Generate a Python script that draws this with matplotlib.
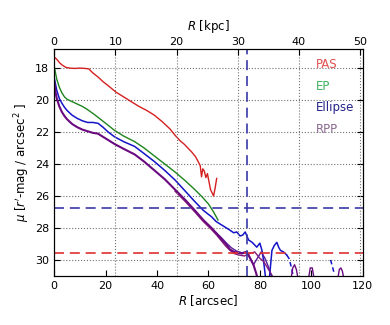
import numpy as np
import matplotlib
matplotlib.use('Agg')
import matplotlib.pyplot as plt

nan = np.nan

# surface brightness profiles, R in arcsec, mu in mag/arcsec^2
pas_r = [0, 1, 2, 3, 4.5, 6, 8, 10, 12, 13.5, 15, 17, 19, 21, 24, 27, 30, 33, 36, 39, 42, 45, 47, 49,
         50.5, 52, 53.5, 55, 56, 56.8, 57.3, 57.8, 58.4, 59, 59.6, 60.2, 60.8, 61.4, 62, 62.6, 63.2]
pas_mu = [17.3, 17.45, 17.65, 17.8, 17.95, 18.0, 18.02, 18.0, 18.02, 18.05, 18.3, 18.55, 18.85, 19.1,
          19.5, 19.8, 20.1, 20.4, 20.65, 20.95, 21.35, 21.8, 22.2, 22.55, 22.75, 23.0, 23.25, 23.55,
          23.85, 24.1, 24.8, 24.3, 24.45, 24.85, 24.6, 25.1, 25.6, 25.8, 26.0, 25.5, 24.9]

ep_r = [0, 0.5, 1, 2, 3, 4, 5, 7, 9, 11, 13, 15.6, 18, 20, 23.5, 27, 31.3, 35, 39, 43, 47, 51,
        54.7, 57.5, 60, 62, 63.7]
ep_mu = [17.9, 18.3, 18.7, 19.2, 19.55, 19.8, 19.95, 20.1, 20.25, 20.4, 20.6, 20.9, 21.2, 21.45,
         21.9, 22.25, 22.6, 23.0, 23.5, 24.0, 24.5, 25.05, 25.6, 26.05, 26.5, 27.0, 27.5]

ell_r = [0, 0.5, 1, 2, 3, 4, 5, 7, 9, 11, 13, 15, 17, 19, 21, 23.5, 27, 31.3, 35, 39, 43, 47, 51,
         54.7, 58, 61.2, 63, 65, 66.5, 68, 69.8, 71, 72.3, 73.3, 74.3, 75.6, 77, 78.8, 80, 80.8,
         81.4, 82.5, 83.5, 84.7, 85.6, 86.6, 87.3, 88, 89.2, 90.5]
ell_mu = [18.6, 19.0, 19.4, 19.9, 20.2, 20.45, 20.65, 20.95, 21.15, 21.3, 21.4, 21.4, 21.45, 21.7,
          22.0, 22.3, 22.6, 22.9, 23.35, 23.85, 24.4, 25.0, 25.7, 26.35, 26.9, 27.3, 27.6, 27.8,
          27.95, 28.1, 28.3, 28.25, 28.5, 28.45, 28.25, 28.75, 28.9, 29.2, 28.95, 29.4, 30.0, 31.5,
          31.5, 29.4, 29.1, 28.9, 29.2, 29.4, 29.5, 29.7]
ell_dash_r = [90.5, 91.3, 92, 92.7, 93.5, nan, 107.5, 108.2, 109]
ell_dash_mu = [29.7, 29.9, 30.3, 30.8, 31.4, nan, 30.0, 30.4, 30.9]

rpp_r = [0, 0.5, 1, 2, 3, 4, 5, 7, 9, 11, 13, 15, 17, 19, 21, 23.5, 27, 31.3, 35, 39, 43, 47, 51,
         54.7, 58, 61.2, 63.2, 65, 66.8, 68.4, 70, 71.5, 73, 75, 76.2, 77.5, 78.5, 79.5]
rpp_mu = [18.9, 19.5, 19.9, 20.4, 20.75, 21.0, 21.2, 21.5, 21.7, 21.85, 21.95, 22.05, 22.1, 22.3,
          22.5, 22.75, 23.05, 23.4, 23.85, 24.4, 24.95, 25.6, 26.25, 26.9, 27.5, 28.0, 28.35, 28.7,
          29.0, 29.35, 29.5, 29.55, 29.6, 29.5, 29.9, 30.3, 30.8, 31.4]
rpp2_r = [47, 51, 54.7, 58, 61.2, 63.2, 65, 66.8, 68.4, 70, 72, 74, 76, 78, 80, 81.5, 83, 84.5, 86]
rpp2_mu = [25.7, 26.35, 27.0, 27.6, 28.1, 28.45, 28.8, 29.15, 29.4, 29.6, 29.7, 29.75, 29.6, 29.5,
           29.9, 30.1, 30.5, 30.9, 31.4]
rpp3_r = [63, 65, 67, 69, 71, 73, 74.5, 76, 77.5, 79, 80.5, 82, 83.5, 85]
rpp3_mu = [28.3, 28.6, 28.95, 29.25, 29.45, 29.55, 29.5, 29.8, 30.3, 29.9, 29.5, 29.9, 30.5, 31.3]
rpp_tail_r = [92, 92.8, 93.5, 94.2, 95, nan, 98.8, 99.6, 100.4, 101.2, nan,
              110.2, 110.9, 111.5, 112.1, 112.8]
rpp_tail_mu = [31.3, 30.5, 30.3, 30.6, 31.3, nan, 31.3, 30.5, 30.5, 31.3, nan,
               31.3, 30.6, 30.5, 30.7, 31.3]

mu_lim_ell = 26.75
mu_lim_pas = 29.55
r_lim = 75.0
kpc_per_arcsec = 0.4203

labels = ['PAS', 'EP', 'Ellipse', 'RPP']
line_colors = ['#d42020', '#1e841e', '#1414c8', '#6a0a80']
text_colors = ['#e05050', '#40b060', '#22228a', '#8a6a90']

fig = plt.figure(figsize=(3.9, 3.25), dpi=100)
ax = fig.add_axes([0.139, 0.151, 0.791, 0.697])

h1, = ax.plot(pas_r, pas_mu, color=line_colors[0], lw=1.0)
h2, = ax.plot(ep_r, ep_mu, color=line_colors[1], lw=1.0)
h3, = ax.plot(ell_r, ell_mu, color=line_colors[2], lw=1.1)
ax.plot(ell_dash_r, ell_dash_mu, color=line_colors[2], lw=1.1, ls=(0, (3, 2)))
ax.plot(rpp2_r, rpp2_mu, color='#8a1a78', lw=1.0)
ax.plot(rpp3_r, rpp3_mu, color='#5a1a9a', lw=1.0)
h4, = ax.plot(rpp_r, rpp_mu, color=line_colors[3], lw=1.5)
ax.plot(rpp_tail_r, rpp_tail_mu, color=line_colors[3], lw=1.0)

ax.axhline(mu_lim_ell, color='#3a3aa8', lw=1.2, ls=(0, (6, 3.5)))
ax.axhline(mu_lim_pas, color='#e03030', lw=1.2, ls=(0, (6, 3.5)))
ax.axvline(r_lim, color='#3a3aa8', lw=1.2, ls=(0, (6, 3.5)))

ax.set_xlim(0, 120)
ax.set_ylim(31.0, 16.83)
ax.set_xticks([0, 20, 40, 60, 80, 100, 120])
ax.set_yticks([18, 20, 22, 24, 26, 28, 30])
ax.tick_params(direction='in', length=4, labelsize=8, right=True, top=False)
ax.grid(axis='y', color='0.45', ls=':', lw=0.8)
ax.set_xlabel('$R$ [arcsec]', fontsize=8.5, labelpad=2)
ax.set_ylabel("$\\mu$ [$r'$-mag / arcsec$^2$ ]", fontsize=8.5, labelpad=2)

ax2 = ax.twiny()
ax2.set_xlim(0, 120 * kpc_per_arcsec)
ax2.set_xticks([0, 10, 20, 30, 40, 50])
ax2.tick_params(direction='in', length=4, labelsize=8, pad=2)
ax2.grid(axis='x', color='0.45', ls=':', lw=0.8)
ax2.set_xlabel('$R$ [kpc]', fontsize=8.5, labelpad=5)

leg = ax.legend([h1, h2, h3, h4], labels, loc='upper right', frameon=False,
                handlelength=0, handletextpad=0, fontsize=8.5, labelspacing=0.75,
                borderaxespad=0.3, labelcolor=text_colors)
for h in leg.legend_handles:
    h.set_visible(False)

fig.savefig('out.png', dpi=100)
